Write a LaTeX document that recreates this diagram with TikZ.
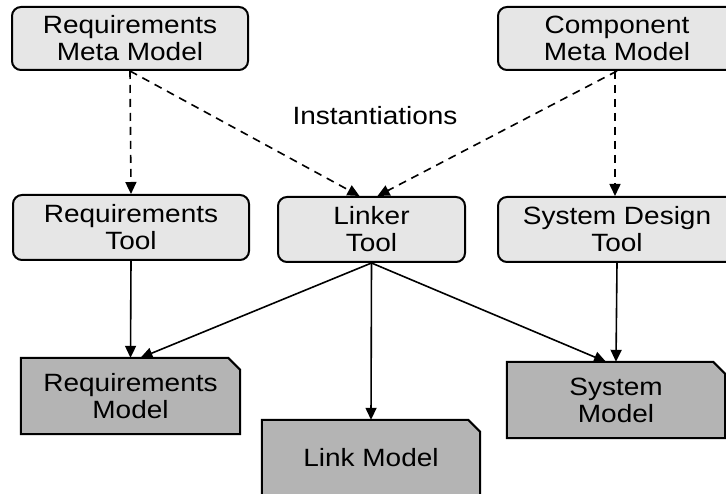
\documentclass[tikz,border=0pt]{standalone}
\usepackage{fontspec}
\setmainfont{Liberation Sans}[FakeStretch=1.12]
\usetikzlibrary{arrows.meta,backgrounds,calc,positioning}
\definecolor{toolgray}{RGB}{230,230,230}
\definecolor{modelgray}{RGB}{180,180,180}

\tikzset{
  boxfont/.style={font=\fontsize{25}{27}\selectfont},
  toolbox/.style={boxfont,draw,line width=2pt,rounded corners=9pt,fill=toolgray,
    minimum width=236pt,minimum height=64pt,align=center,inner sep=0pt},
  modelbox/.style={boxfont,minimum width=218pt,minimum height=76pt,align=center,inner sep=0pt},
  foldline/.style={draw,line width=2pt,fill=modelgray},
  instarrow/.style={line width=1.6pt,dash pattern=on 8pt off 6pt,-{Triangle[length=12pt,width=11pt]}},
  flowarrow/.style={line width=1.6pt,-{Triangle[length=12pt,width=11pt]}}
}

\begin{document}
\begin{tikzpicture}[x=1pt,y=-1pt]
\useasboundingbox (0,0) rectangle (726,494);
\clip (0,0) rectangle (726,494);

% meta models
\node[toolbox,minimum height=63pt] (rmm) at (130,38.5) {Requirements\\Meta Model};
\node[toolbox,minimum height=63pt,minimum width=238pt] (cmm) at (617,38.5) {Component\\Meta Model};

% tools
\node[toolbox,minimum height=65pt] (rt) at (131,227.5) {Requirements\\Tool};
\node[toolbox,minimum height=65pt,minimum width=187pt] (lt) at (371.5,229.5) {Linker\\Tool};
\node[toolbox,minimum height=65pt,minimum width=238pt] (sdt) at (617,229.5) {System Design\\Tool};

% models (folded corner)
\node[modelbox,minimum width=219pt] (rm) at (130.5,396) {Requirements\\Model};
\node[modelbox] (lm) at (371,458) {Link Model};
\node[modelbox] (sm) at (616,400) {System\\Model};
\begin{scope}[on background layer]
\foreach \m in {rm,lm,sm}
  \draw[foldline] (\m.south west) -- (\m.north west) -- ($(\m.north east)+(-12,0)$)
    -- ($(\m.north east)+(0,12)$) -- (\m.south east) -- cycle;
\end{scope}

\node[boxfont] (inst) at (375,116) {Instantiations};

% instantiations
\draw[instarrow] (rmm.south) -- (rt.north);
\draw[instarrow] (rmm.south) -- ([xshift=-12pt]lt.north);
\draw[instarrow] (cmm.south) -- ([xshift=6pt]lt.north);
\draw[instarrow] ([xshift=-2pt]cmm.south) -- ([xshift=-2pt]sdt.north);

% tool outputs
\draw[flowarrow] (rt.south) -- (rm.north);
\draw[flowarrow] (lt.south) -- ([xshift=10pt]rm.north);
\draw[flowarrow] (lt.south) -- (lm.north);
\draw[flowarrow] (lt.south) -- ([xshift=-10pt]sm.north);
\draw[flowarrow] (sdt.south) -- (sm.north);
\end{tikzpicture}
\end{document}
